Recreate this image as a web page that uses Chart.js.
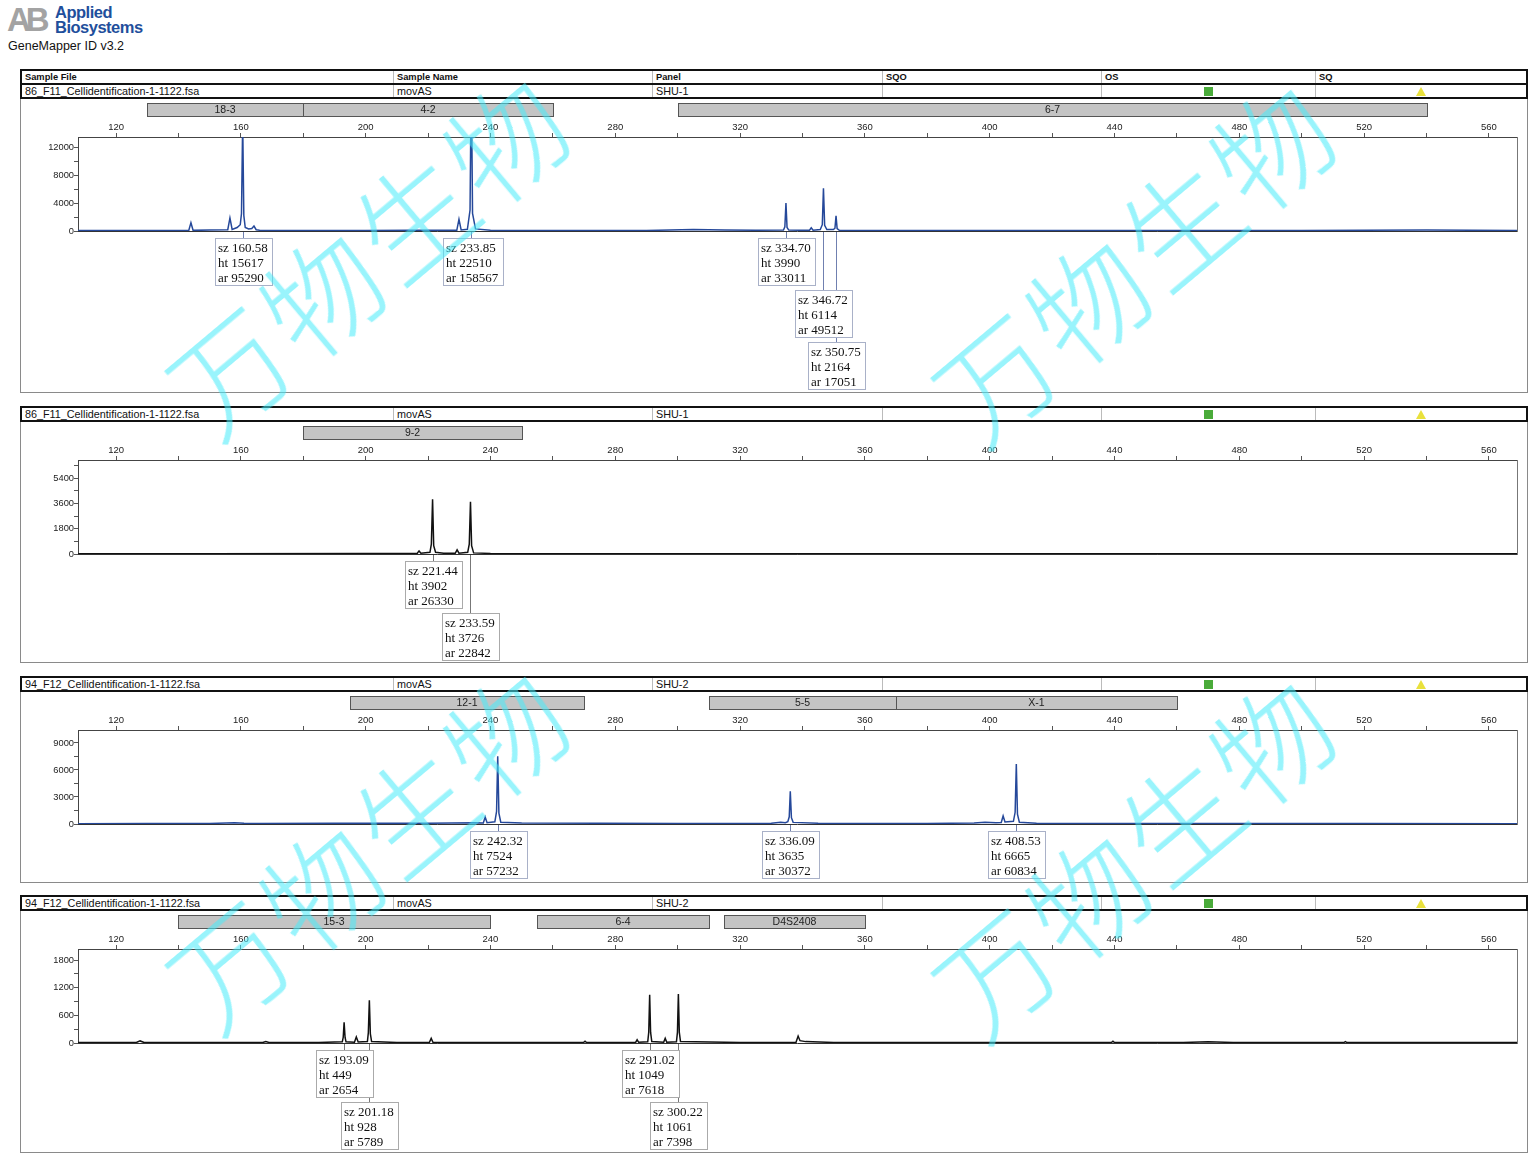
<!DOCTYPE html>
<html><head><meta charset="utf-8">
<script src="https://cdn.jsdelivr.net/npm/chart.js@4.4.0/dist/chart.umd.min.js"></script>
<style>
body{margin:0;background:#fff;width:1533px;height:1163px;position:relative;overflow:hidden;font-family:"Liberation Sans",Arial,sans-serif;color:#111;}
.row{position:absolute;left:20px;width:1508px;height:16px;box-sizing:border-box;border:2px solid #111;background:#fff;}
.cell{position:absolute;top:0;font-size:10.8px;line-height:12px;white-space:nowrap;}
.hcell{font-weight:bold;font-size:9.3px;}
.div{position:absolute;top:0;width:1px;height:12px;background:#bbb;}
.pbox{position:absolute;left:20px;width:1508px;box-sizing:border-box;border:1.5px solid #8a8a8a;border-top:none;}
.wm{position:absolute;width:640px;height:150px;line-height:150px;text-align:center;font-family:"Noto Sans CJK SC",sans-serif;font-size:116px;font-weight:300;color:rgba(70,235,250,0.55);transform:rotate(-40deg);letter-spacing:4px;pointer-events:none;z-index:10;}
</style></head>
<body>
<div style="position:absolute;left:7px;top:1px;font-size:33px;font-weight:bold;color:#a3a3a3;letter-spacing:-5px;">AB</div>
<div style="position:absolute;left:55px;top:5px;font-size:16.5px;font-weight:bold;color:#1f4f9c;line-height:14.5px;letter-spacing:-0.5px;">Applied<br>Biosystems</div>
<div style="position:absolute;left:8px;top:39px;font-size:12.5px;color:#111;">GeneMapper ID v3.2</div>
<script>
// ---------- data ----------
const xMin = 107.8, xMax = 569;
const xTickStep = 20, xLabelStep = 40;
const headerCols = ['Sample File','Sample Name','Panel','SQO','OS','SQ'];
const sampleFiles = ['86_F11_Cellidentification-1-1122.fsa','86_F11_Cellidentification-1-1122.fsa','94_F12_Cellidentification-1-1122.fsa','94_F12_Cellidentification-1-1122.fsa'];
const sampleNames = ['movAS','movAS','movAS','movAS'];
const panelNames = ['SHU-1','SHU-1','SHU-2','SHU-2'];
const watermarkText = '万物生物';

// panel 1
const p1BinLabels = ['18-3','4-2','6-7'];
const p1BinStart = [130,180,300];
const p1BinEnd = [180,260,540];
const p1YMax = 13430, p1YStep = 2000, p1YLabelStep = 4000;
const p1TraceX = [107.8,125,140,143.3,144.0,144.7,150,155.8,156.5,157.2,158.8,159.8,160.2,160.58,160.95,161.4,162.5,163.5,164.2,164.9,166,180,200,215,225,229.2,229.9,230.6,232.6,233.45,233.85,234.25,235.2,240,260,290,305,315,325,333.9,334.35,334.70,335.05,335.6,342.2,342.8,343.4,345.7,346.35,346.72,347.1,347.8,349.9,350.4,350.75,351.1,351.8,360,420,500,540,569];
const p1TraceY = [60,70,60,80,1190,90,150,180,1860,220,500,900,2500,15617,2200,500,300,350,700,180,120,80,60,90,120,100,1670,150,250,3000,22510,2500,300,120,80,80,200,150,100,150,600,3990,500,130,90,470,110,200,900,6114,800,200,200,400,2164,350,90,70,60,70,150,60];
const p1PeakSz = [160.58,233.85,334.70,346.72,350.75];
const p1PeakHt = [15617,22510,3990,6114,2164];
const p1PeakAr = [95290,158567,33011,49512,17051];

// panel 2
const p2BinLabels = ['9-2'];
const p2BinStart = [180];
const p2BinEnd = [250];
const p2YMax = 6700, p2YStep = 900, p2YLabelStep = 1800;
const p2TraceX = [107.8,150,200,216.5,217.1,217.7,220.6,221.05,221.44,221.8,222.4,225,228.7,229.3,229.9,232.7,233.2,233.59,233.95,234.6,240,300,400,569];
const p2TraceY = [20,25,30,40,220,50,120,700,3902,600,120,60,50,300,60,120,700,3726,600,80,30,25,25,20];
const p2PeakSz = [221.44,233.59];
const p2PeakHt = [3902,3726];
const p2PeakAr = [26330,22842];

// panel 3
const p3BinLabels = ['12-1','5-5','X-1'];
const p3BinStart = [195,310,370];
const p3BinEnd = [270,370,460];
const p3YMax = 10440, p3YStep = 1500, p3YLabelStep = 3000;
const p3TraceX = [107.8,130,150,158,161,166,190,220,235,237.7,238.3,238.9,241.4,241.95,242.32,242.7,243.3,250,300,330,333,334.5,335.3,335.75,336.09,336.45,337,345,380,395,398.5,402,403.7,404.3,404.9,407.6,408.15,408.53,408.9,409.5,415,460,520,569];
const p3TraceY = [40,50,60,150,90,60,70,90,150,120,780,150,250,1400,7524,1200,200,100,50,80,200,150,250,800,3635,700,180,70,60,100,200,150,170,890,220,300,1300,6665,1100,200,80,50,60,40];
const p3PeakSz = [242.32,336.09,408.53];
const p3PeakHt = [7524,3635,6665];
const p3PeakAr = [57232,30372,60834];

// panel 4
const p4BinLabels = ['15-3','6-4','D4S2408'];
const p4BinStart = [140,255,315];
const p4BinEnd = [240,310,360];
const p4YMax = 2040, p4YStep = 300, p4YLabelStep = 600;
const p4TraceX = [107.8,126.5,127.7,129,150,167,168,169,185,192.5,192.8,193.09,193.4,193.7,196.4,197.0,197.6,200.55,200.85,201.18,201.5,201.9,210,220.4,221.0,221.6,250,269.8,270.3,270.8,286.5,287.0,287.5,290.4,290.72,291.02,291.32,291.7,295.5,296.0,296.5,299.6,299.92,300.22,300.52,300.9,320,337.9,338.6,339.2,341,350,420,439,439.5,440,462,470,478,513.5,514,514.5,569];
const p4TraceY = [10,12,45,12,10,12,30,12,12,25,120,449,120,25,15,130,20,30,220,928,200,30,12,12,100,12,10,10,40,10,12,70,15,25,230,1049,230,30,15,100,15,25,230,1061,230,30,10,12,150,50,30,12,10,10,40,10,10,25,10,10,30,10,10];
const p4PeakSz = [193.09,201.18,291.02,300.22];
const p4PeakHt = [449,928,1049,1061];
const p4PeakAr = [2654,5789,7618,7398];

// ---------- layout / style ----------
const BLUE = '#25489a', BLACK = '#111111';
const panels = [
  {rowTop:83, headerTop:69, bottom:393, color:BLUE, conn:'#7080b0', boxBorder:'#a9b1c8',
   bins:[p1BinLabels,p1BinStart,p1BinEnd], tx:p1TraceX, ty:p1TraceY, sz:p1PeakSz, ht:p1PeakHt, ar:p1PeakAr, yMax:p1YMax, yStep:p1YStep, yLab:p1YLabelStep},
  {rowTop:406, bottom:663, color:BLACK, conn:'#777', boxBorder:'#aaa',
   bins:[p2BinLabels,p2BinStart,p2BinEnd], tx:p2TraceX, ty:p2TraceY, sz:p2PeakSz, ht:p2PeakHt, ar:p2PeakAr, yMax:p2YMax, yStep:p2YStep, yLab:p2YLabelStep},
  {rowTop:676, bottom:883, color:BLUE, conn:'#7080b0', boxBorder:'#a9b1c8',
   bins:[p3BinLabels,p3BinStart,p3BinEnd], tx:p3TraceX, ty:p3TraceY, sz:p3PeakSz, ht:p3PeakHt, ar:p3PeakAr, yMax:p3YMax, yStep:p3YStep, yLab:p3YLabelStep},
  {rowTop:895, bottom:1153, color:BLACK, conn:'#777', boxBorder:'#aaa',
   bins:[p4BinLabels,p4BinStart,p4BinEnd], tx:p4TraceX, ty:p4TraceY, sz:p4PeakSz, ht:p4PeakHt, ar:p4PeakAr, yMax:p4YMax, yStep:p4YStep, yLab:p4YLabelStep}
];
const colX = [25,397,656,886,1105,1319];
const divX = [393,652,882,1101,1315];

function addRow(top, texts, header, marks){
  const r = document.createElement('div');
  r.className = 'row'; r.style.top = top + 'px';
  texts.forEach((t,i)=>{
    const c = document.createElement('div');
    c.className = 'cell' + (header ? ' hcell' : '');
    c.style.left = (colX[i]-22) + 'px';
    c.textContent = t; r.appendChild(c);
  });
  divX.forEach(x=>{const d=document.createElement('div');d.className='div';d.style.left=(x-22)+'px';r.appendChild(d);});
  if (marks){
    const sq = document.createElement('div');
    sq.style.cssText='position:absolute;left:1182px;top:2px;width:9px;height:9px;background:#4aab3a;';
    r.appendChild(sq);
    const tr = document.createElement('div');
    tr.style.cssText='position:absolute;left:1394px;top:2px;width:0;height:0;border-left:5.5px solid transparent;border-right:5.5px solid transparent;border-bottom:9px solid #e9e13c;';
    r.appendChild(tr);
  }
  document.body.appendChild(r);
}

const CH_TOP = 38, CH_H = 94;

function stepTicks(lo, hi, step){
  const out = [];
  for (let v = Math.ceil(lo/step)*step; v <= hi + 1e-9; v += step) out.push({value: v});
  return out;
}

const framePlugin = {
  id:'frame',
  afterDraw(chart){
    const a = chart.chartArea, ctx = chart.ctx;
    ctx.save();
    ctx.strokeStyle = '#777'; ctx.lineWidth = 1;
    ctx.beginPath(); ctx.moveTo(a.right+0.5, a.top); ctx.lineTo(a.right+0.5, a.bottom+1); ctx.stroke();
    ctx.strokeStyle = '#333';
    ctx.beginPath(); ctx.moveTo(a.left, a.bottom+0.5); ctx.lineTo(a.right, a.bottom+0.5); ctx.stroke();
    ctx.restore();
  }
};

function makeBinsPlugin(p){
  return {
    id:'bins',
    afterDraw(chart){
      const xs = chart.scales.x, ctx = chart.ctx;
      const [labels, st, en] = p.bins;
      ctx.save();
      labels.forEach((lab,k)=>{
        const x1 = Math.round(xs.getPixelForValue(st[k])), x2 = Math.round(xs.getPixelForValue(en[k]));
        ctx.fillStyle = '#c4c4c4'; ctx.fillRect(x1, 4, x2-x1, 13);
        ctx.strokeStyle = '#555'; ctx.lineWidth = 1; ctx.strokeRect(x1+0.5, 4.5, x2-x1, 13);
        ctx.fillStyle = '#222'; ctx.font = '10.5px "Liberation Sans", Arial, sans-serif';
        ctx.textAlign = 'center'; ctx.textBaseline = 'middle';
        ctx.fillText(lab, (x1+x2)/2, 11.5);
      });
      ctx.restore();
    }
  };
}

function makeAnnotPlugin(p){
  return {
    id:'annot',
    afterDraw(chart){
      const xs = chart.scales.x, ctx = chart.ctx, a = chart.chartArea;
      ctx.save();
      ctx.font = '13px "Liberation Serif", "Times New Roman", serif';
      const levels = [];
      const items = p.sz.map((s,k)=>{
        const px = xs.getPixelForValue(s);
        const lines = ['sz ' + s.toFixed(2), 'ht ' + p.ht[k], 'ar ' + p.ar[k]];
        const w = Math.ceil(Math.max(...lines.map(l=>ctx.measureText(l).width))) + 7;
        const left = Math.round(px) - 28;
        let lv = 0;
        while (levels[lv] && levels[lv].some(([l,r]) => left < r + 2 && left + w > l - 2)) lv++;
        (levels[lv] = levels[lv] || []).push([left, left+w]);
        return {px, lines, w, left, top: Math.round(a.bottom) + 7 + lv*52};
      });
      ctx.strokeStyle = p.conn; ctx.lineWidth = 1;
      items.forEach(it=>{
        const x = Math.round(it.px)+0.5;
        ctx.beginPath(); ctx.moveTo(x, a.bottom+1); ctx.lineTo(x, it.top); ctx.stroke();
      });
      items.forEach(it=>{
        ctx.fillStyle = '#fff'; ctx.fillRect(it.left, it.top, it.w, 47);
        ctx.strokeStyle = p.boxBorder; ctx.strokeRect(it.left+0.5, it.top+0.5, it.w, 47);
        ctx.fillStyle = '#111'; ctx.textAlign = 'left'; ctx.textBaseline = 'middle';
        it.lines.forEach((l,i)=> ctx.fillText(l, it.left+3, it.top + 10.5 + i*15));
      });
      ctx.restore();
    }
  };
}

panels.forEach((p, i)=>{
  if (p.headerTop !== undefined) addRow(p.headerTop, headerCols, true, false);
  addRow(p.rowTop, [sampleFiles[i], sampleNames[i], panelNames[i]], false, true);
  const rowBottom = p.rowTop + 16;
  const box = document.createElement('div');
  box.className = 'pbox';
  box.style.top = rowBottom + 'px'; box.style.height = (p.bottom - rowBottom) + 'px';
  document.body.appendChild(box);

  const w = 1506, h = p.bottom - rowBottom - 2;
  const cv = document.createElement('canvas');
  cv.width = w; cv.height = h;
  cv.style.cssText = `position:absolute;left:21px;top:${rowBottom}px;width:${w}px;height:${h}px;`;
  document.body.appendChild(cv);
  const pts = p.tx.map((x,k)=>({x, y:p.ty[k]}));
  const fam = '"Liberation Sans", Arial, sans-serif';
  new Chart(cv, {
    type:'line',
    data:{datasets:[{data:pts, borderColor:p.color, borderWidth:1.5, pointRadius:0, tension:0, fill:false,
      clip:{left:0, top:0, right:0, bottom:2}}]},
    options:{
      responsive:false, animation:false, devicePixelRatio:1,
      layout:{padding:{left:0, right:10, top:0, bottom:h - CH_TOP - CH_H}},
      plugins:{legend:{display:false}, tooltip:{enabled:false}},
      scales:{
        x:{type:'linear', position:'top', min:xMin, max:xMax,
           afterBuildTicks:s=>{ s.ticks = stepTicks(xMin, xMax, xTickStep); },
           ticks:{autoSkip:false, maxRotation:0, padding:0, font:{family:fam, size:9.5}, color:'#222',
                  callback:v => (Math.round(v) % xLabelStep === 0 ? String(Math.round(v)) : '')},
           grid:{drawOnChartArea:false, tickLength:4, color:'#555'},
           border:{color:'#444', width:1},
           afterFit:s=>{s.height = CH_TOP;}},
        y:{type:'linear', min:0, max:p.yMax,
           afterBuildTicks:s=>{ s.ticks = stepTicks(0, p.yMax, p.yStep); },
           ticks:{autoSkip:false, padding:0, font:{family:fam, size:9.3}, color:'#222',
                  callback:v => (Math.round(v) % p.yLab === 0 ? String(Math.round(v)) : '')},
           grid:{drawOnChartArea:false, tickLength:4, color:'#555'},
           border:{color:'#444', width:1},
           afterFit:s=>{s.width = 57;}}
      }
    },
    plugins:[framePlugin, makeBinsPlugin(p), makeAnnotPlugin(p)]
  });
});

// watermark
[[366,250],[1132,257],[366,844],[1132,852]].forEach(([cx,cy])=>{
  const d = document.createElement('div');
  d.className = 'wm'; d.textContent = watermarkText;
  d.style.left = (cx-320)+'px'; d.style.top = (cy-75)+'px';
  document.body.appendChild(d);
});
</script>
</body></html>
